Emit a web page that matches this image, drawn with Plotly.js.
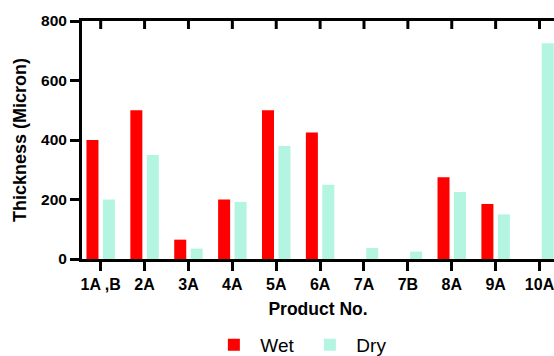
<!DOCTYPE html>
<html>
<head>
<meta charset="utf-8">
<script src="https://cdn.plot.ly/plotly-3.0.1.min.js"></script>
<style>html,body{margin:0;padding:0;background:#fff;overflow:hidden}</style>
</head>
<body>
<div id="chart" style="width:554px;height:356px"></div>
<script>
const categories = ["1A ,B", "2A", "3A", "4A", "5A", "6A", "7A", "7B", "8A", "9A", "10A"];
const wetValues = [400, 500, 65, 200, 500, 425, null, null, 275, 185, null];
const dryValues = [200, 350, 35, 192, 380, 250, 37, 25, 225, 150, 725];
const yTicks = [0, 200, 400, 600, 800];

const font = "Arial, 'Liberation Sans', Helvetica, sans-serif";
const xRange = [-0.426, 10.33];
const plotHeight = 356 - 21 - 97;

const traces = [
  {type: "bar", name: "Wet", x: categories, y: wetValues, marker: {color: "#FF0000"}},
  {type: "bar", name: "Dry", x: categories, y: dryValues, marker: {color: "#B3F5E0"}}
];

// inward-pointing tick marks on the mirrored top axis, one per category
const topTicks = categories.map(c => ({
  type: "line", layer: "above", xref: "x", yref: "paper",
  x0: c, x1: c, y0: 1, y1: 1 - 8 / plotHeight,
  line: {color: "#000", width: 3}
}));

const layout = {
  width: 554, height: 356,
  margin: {l: 82, r: 0, t: 21, b: 97},
  paper_bgcolor: "#fff", plot_bgcolor: "#fff",
  barmode: "group", bargap: 0.25, bargroupgap: 0.27,
  font: {family: font, color: "#000"},
  xaxis: {
    type: "category", range: xRange, mirror: true,
    showline: true, linecolor: "#000", linewidth: 3,
    ticks: "outside", ticklen: 9, tickwidth: 3, tickcolor: "#000",
    tickfont: {size: 16, family: font, weight: "bold"},
    showgrid: false, zeroline: false,
    title: {text: "Product No.", font: {size: 17.5, family: font, weight: "bold"}, standoff: 11}
  },
  yaxis: {
    range: [0, 800], tickvals: yTicks,
    showline: true, linecolor: "#000", linewidth: 3,
    ticks: "outside", ticklen: 9, tickwidth: 3, tickcolor: "#000",
    tickfont: {size: 15.5, family: font, weight: "bold"},
    showgrid: false, zeroline: false,
    title: {text: "Thickness (Micron)", font: {size: 18, family: font, weight: "bold"}, standoff: 10}
  },
  shapes: topTicks,
  showlegend: true,
  legend: {
    orientation: "h", xref: "paper", x: 0.469, xanchor: "center",
    yref: "container", y: 0.031, yanchor: "middle",
    font: {size: 19, family: font}, itemwidth: 43, entrywidth: 38, traceorder: "normal"
  }
};

Plotly.newPlot("chart", traces, layout, {displayModeBar: false});
</script>
</body>
</html>
